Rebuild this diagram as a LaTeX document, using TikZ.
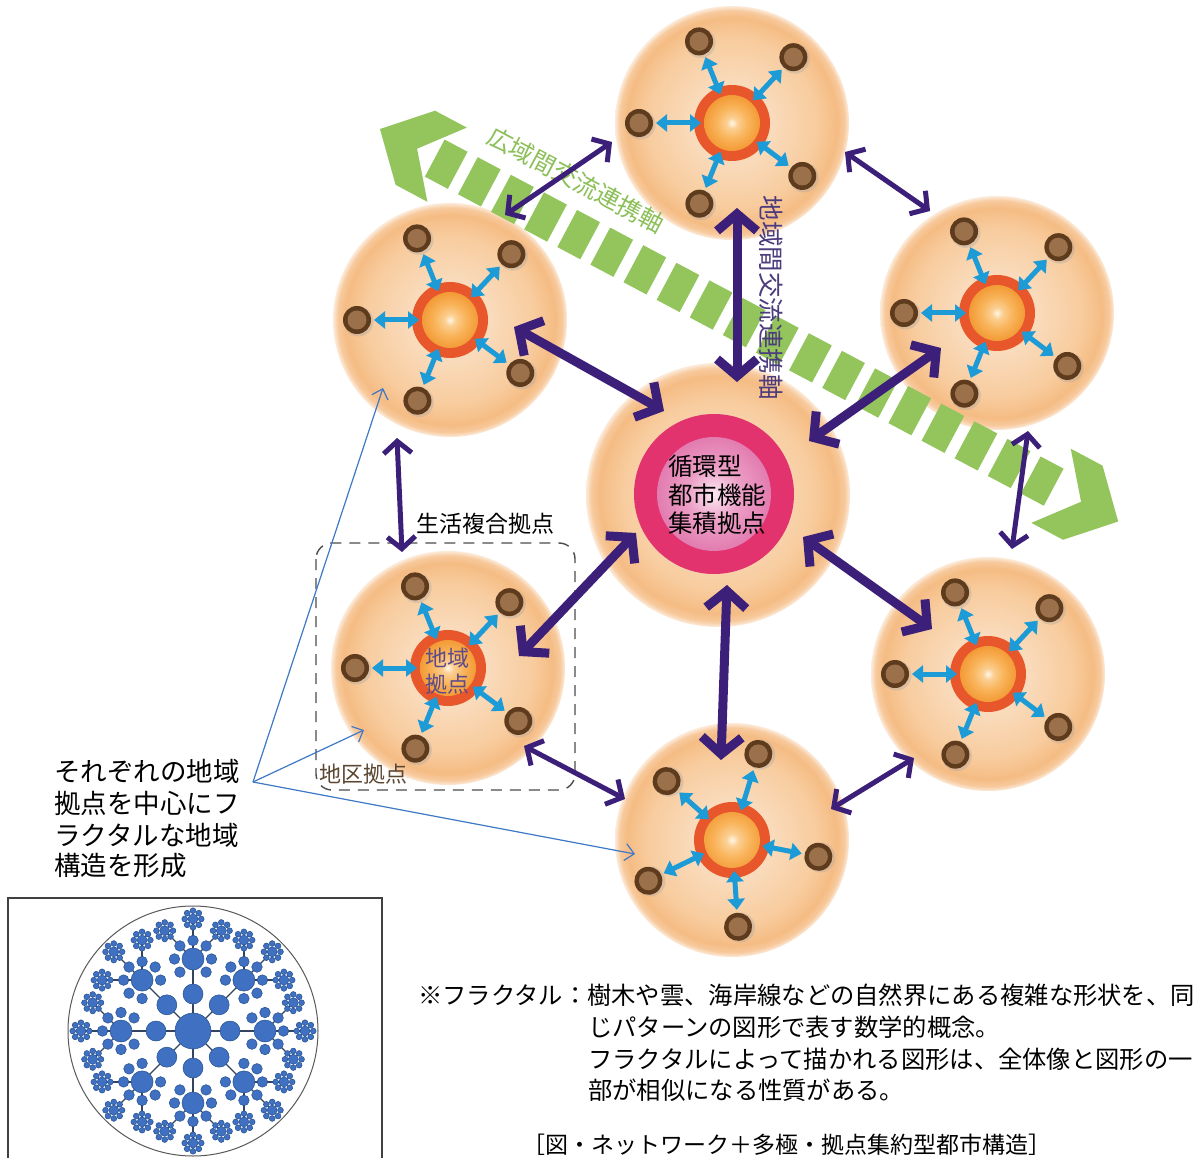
\documentclass[tikz,border=0pt]{standalone}
\usepackage{fontspec}
\setmainfont{Noto Sans CJK JP}
\usetikzlibrary{arrows.meta}
\newcommand\setfs[2]{\fontsize{#1pt}{#2pt}\selectfont}

\definecolor{peachA}{HTML}{F9DABA}
\definecolor{peachB}{HTML}{F8CC9E}
\definecolor{peachC}{HTML}{F5BC84}
\definecolor{hubRing}{HTML}{E8562B}
\definecolor{hubA}{HTML}{FFF6E6}
\definecolor{hubB}{HTML}{F9B45A}
\definecolor{hubC}{HTML}{F39A36}
\definecolor{pinkRing}{HTML}{E2336F}
\definecolor{pinkA}{HTML}{FBE9F2}
\definecolor{pinkB}{HTML}{EC9EC6}
\definecolor{pinkC}{HTML}{E27CB0}
\definecolor{dotDark}{HTML}{5E3B1D}
\definecolor{dotLight}{HTML}{9A714A}
\definecolor{linkCyan}{HTML}{1C9BD6}
\definecolor{netPurple}{HTML}{3B1F78}
\definecolor{axisGreen}{HTML}{93C55C}
\definecolor{axisText}{HTML}{8BBF57}
\definecolor{vertText}{HTML}{4C3C7D}
\definecolor{hubText}{HTML}{5C4A8D}
\definecolor{districtText}{HTML}{5B4632}
\definecolor{noteBlue}{HTML}{3E78C6}
\definecolor{fracFill}{HTML}{3F70C2}
\definecolor{fracEdge}{HTML}{24508F}
\definecolor{fracLine}{HTML}{34445F}

\pgfdeclareradialshading{peachball}{\pgfpoint{0bp}{0bp}}{color(0bp)=(peachA); color(9bp)=(peachA); color(18bp)=(peachB); color(22.5bp)=(peachC); color(24bp)=(peachC!80!white); color(25bp)=(peachC!30!white); color(50bp)=(white)}
\pgfdeclareradialshading{hubball}{\pgfpoint{0bp}{0bp}}{color(0bp)=(hubA); color(5bp)=(hubB!60!hubA); color(14bp)=(hubB); color(25bp)=(hubC); color(50bp)=(hubC)}
\pgfdeclareradialshading{pinkball}{\pgfpoint{0bp}{0bp}}{color(0bp)=(pinkA); color(12bp)=(pinkB); color(25bp)=(pinkC); color(50bp)=(pinkC)}

\begin{document}
\begin{tikzpicture}[x=1pt,y=-1pt,
  cyanlink/.style={draw=linkCyan, line width=5pt, {Triangle[length=11pt,width=17pt]}-{Triangle[length=11pt,width=17pt]}},
  netthick/.style={draw=netPurple, line width=9pt, {Straight Barb[length=17pt,width=40pt]}-{Straight Barb[length=17pt,width=40pt]}},
  netthin/.style={draw=netPurple, line width=5pt, {Straight Barb[length=12pt,width=28pt]}-{Straight Barb[length=12pt,width=28pt]}},
  notearrow/.style={draw=noteBlue, line width=1.2pt, -{Straight Barb[length=9pt,width=17pt]}},
  groupbox/.style={draw=black!70, line width=1.4pt, dash pattern=on 11pt off 8pt, rounded corners=16pt},
  frlink/.style={draw=fracLine, line width=1.2pt},
  frdot/.style={fill=fracFill, draw=fracEdge, line width=0.5pt},
  lbl/.style={inner sep=0pt},
  satellite/.pic={
    \fill[hubRing] (0,0) circle[radius=38pt];
    \shade[shading=hubball] (0,0) circle[radius=28pt];
    \foreach \ang/\rad in {-112/88,-47/90,180/93,37/88,112/87}{
      \pgfmathsetmacro\tipr{\rad-17}
      \draw[cyanlink] (\ang:31) -- (\ang:\tipr);
      \fill[black!35, opacity=0.35] (\ang:\rad) ++(1.5,1.5) circle[radius=15pt];
      \fill[dotDark] (\ang:\rad) circle[radius=14pt];
      \fill[dotLight] (\ang:\rad) circle[radius=9.5pt];
    }
  }
]
\useasboundingbox (0,0) rectangle (1200,1158);
\fill[white] (0,0) rectangle (1200,1158);

% peach discs of the satellite districts and the core
\foreach \nm/\cx/\cy in {st/732/123, stl/450/320, str/997/313, sbl/448/668, sbr/988/674, sb/732/840}{
  \coordinate (\nm) at (\cx,\cy);
  \shade[shading=peachball] (\nm) circle[radius=117pt];
}
\coordinate (ctr) at (718,495);
\shade[shading=peachball] (ctr) circle[radius=132pt];

% wide-area exchange axis: dashed band with chevron ends
\begin{scope}[shift={(380,129)}, rotate=-28]
  \fill[axisGreen] (0,0) -- (40,-42) -- (76,-42) -- (42,0) -- (76,42) -- (40,42) -- cycle;
  \fill[axisGreen] (836,0) -- (796,-42) -- (760,-42) -- (794,0) -- (760,42) -- (796,42) -- cycle;
  \foreach \i in {0,...,18} \fill[axisGreen] ({62+37.5*\i},-21) rectangle ++(26,42);
\end{scope}

% satellite hubs with their local nodes
\foreach \nm/\rot in {st/0, stl/0, str/0, sbl/0, sbr/0, sb/26}
  \pic[rotate=\rot] at (\nm) {satellite};

% core hub
\coordinate (core) at (714,494);
\fill[pinkRing] (core) circle[radius=80pt];
\shade[shading=pinkball] (core) circle[radius=57pt];
\node[lbl, align=left, font=\setfs{24.5}{28.5}] (coreText) at (717,495) {循環型\\都市機能\\集積拠点};

% group frame around one district
\draw[groupbox] (316,543) rectangle (575,790);
\node[lbl, font=\setfs{23}{23}] (lifeHub) at (485,524) {生活複合拠点};
\node[lbl, font=\setfs{22}{22}, text=districtText] (districtHub) at (363,774) {地区拠点};
\node[lbl, align=center, font=\setfs{22}{25.5}, text=hubText] (regionHub) at (447,671) {地域\\拠点};

% axis labels
\node[lbl, rotate=-28, text=axisText, font=\setfs{24.5}{24.5}] (wideAxis) at (576,180) {広域間交流連携軸};
\node[lbl, rotate=-90, text=vertText, font=\setfs{25.5}{25.5}] (regAxis) at (771,298) {地域間交流連携軸};

% annotation
\node[lbl, anchor=west, font=\setfs{26.5}{26.5}] (ann1) at (54,771) {それぞれの地域};
\node[lbl, anchor=west, font=\setfs{26.5}{26.5}] (ann2) at (54,803) {拠点を中心にフ};
\node[lbl, anchor=west, font=\setfs{26.5}{26.5}] (ann3) at (54,835) {ラクタルな地域};
\node[lbl, anchor=west, font=\setfs{26.5}{26.5}] (ann4) at (54,866) {構造を形成};
\coordinate (annSrc) at (253,782);
\coordinate (annT1) at (383,388);
\coordinate (annT2) at (364,730);
\coordinate (annT3) at (635,854);
\draw[notearrow] (annSrc) -- (annT1);
\draw[notearrow] (annSrc) -- (annT2);
\draw[notearrow] (annSrc) -- (annT3);

% links between districts and the core
\coordinate (a1) at (514,327);  \coordinate (b1) at (664,411);
\coordinate (a2) at (737,208);  \coordinate (b2) at (737,382);
\coordinate (a3) at (941,348);  \coordinate (b3) at (809,441);
\coordinate (a4) at (519,656);  \coordinate (b4) at (636,533);
\coordinate (a5) at (932,629);  \coordinate (b5) at (803,537);
\coordinate (a6) at (721,760);  \coordinate (b6) at (727,585);
\foreach \i in {1,...,6} \draw[netthick] (a\i) -- (b\i);

% links around the ring of districts
\coordinate (r1a) at (612,142);  \coordinate (r1b) at (505,215);
\coordinate (r2a) at (845,152);  \coordinate (r2b) at (930,211);
\coordinate (r3a) at (1028,431); \coordinate (r3b) at (1012,549);
\coordinate (r4a) at (914,758);  \coordinate (r4b) at (831,809);
\coordinate (r5a) at (625,799);  \coordinate (r5b) at (524,746);
\coordinate (r6a) at (402,552);  \coordinate (r6b) at (397,438);
\foreach \i in {1,...,6} \draw[netthin] (r\i a) -- (r\i b);

% fractal illustration
\draw[draw=black!75, line width=1.3pt] (8,1160) -- (8,898) -- (382,898) -- (382,1160);
\coordinate (fr) at (193,1031);
\begin{scope}[shift={(fr)}]
  \draw[draw=black!65, line width=1pt] (0,0) circle[radius=125pt];
  \foreach \a in {0,45,...,315}{
    \draw[frlink] (0,0) -- (\a:72);
    \foreach \b in {-45,0,45} \draw[frlink] (\a:72) -- ++({\a+\b}:40);
  }
  \foreach \a in {0,45,...,315}{
    \path[frdot] (\a:37) circle[radius=10pt];
    \path[frdot] (\a:72) circle[radius=11pt];
    \foreach \k in {-135,-90,-45,0,45,90,135}
      \path[frdot] (\a:72) ++({\a+\k}:18.5) circle[radius=5.3pt];
    \foreach \b in {-45,0,45}{
      \path[frdot] (\a:72) ++({\a+\b}:40) coordinate (fl) circle[radius=5pt];
      \foreach \p in {0,45,...,315} \path[frdot] (fl) ++(\p:8.3) circle[radius=2.9pt];
    }
  }
  \path[frdot] (0,0) circle[radius=18pt];
\end{scope}

% explanatory note and caption
\node[lbl, anchor=west, font=\setfs{24.3}{24.3}] (note1) at (418,995) {※フラクタル：樹木や雲、海岸線などの自然界にある複雑な形状を、同};
\node[lbl, anchor=west, font=\setfs{24.3}{24.3}] (note2) at (588,1027) {じパターンの図形で表す数学的概念。};
\node[lbl, anchor=west, font=\setfs{24.3}{24.3}] (note3) at (588,1059) {フラクタルによって描かれる図形は、全体像と図形の一};
\node[lbl, anchor=west, font=\setfs{24.3}{24.3}] (note4) at (588,1090) {部が相似になる性質がある。};
\node[lbl, font=\setfs{23}{23}] (caption) at (787,1145) {［図・ネットワーク＋多極・拠点集約型都市構造］};
\end{tikzpicture}
\end{document}
